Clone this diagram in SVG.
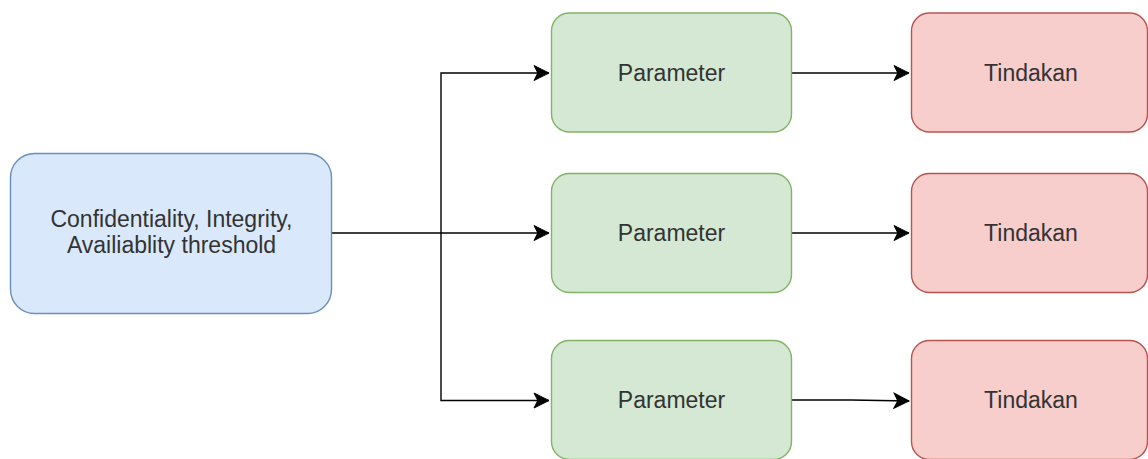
<svg xmlns="http://www.w3.org/2000/svg" width="1148" height="459" viewBox="0 0 1148 459">
  <defs>
    <style>
      .blue { fill: #dae8fc; stroke: #6c8ebf; stroke-width: 1.4; }
      .green { fill: #d5e8d4; stroke: #82b366; stroke-width: 1.4; }
      .red { fill: #f8cecc; stroke: #b85450; stroke-width: 1.4; }
      .lbl { font-family: "Liberation Sans", Arial, Helvetica, sans-serif; font-size: 23px; fill: #333; text-anchor: middle; }
      .edge { fill: none; stroke: #000; stroke-width: 1.4; }
    </style>
    <marker id="arrow" viewBox="0 0 17 17" refX="16" refY="8.5" markerWidth="17" markerHeight="17" markerUnits="userSpaceOnUse" orient="auto">
      <path d="M16,8.5 L1,1 L4.8,8.5 L1,16 Z" fill="#000" stroke="#000" stroke-width="1"/>
    </marker>
  </defs>

  <g id="connectors">
    <path class="edge" d="M332,233 H441 V73 H549" marker-end="url(#arrow)"/>
    <path class="edge" d="M441,233 H549" marker-end="url(#arrow)"/>
    <path class="edge" d="M441,233 V400.5 H549" marker-end="url(#arrow)"/>
    <path class="edge" d="M792,73 H909" marker-end="url(#arrow)"/>
    <path class="edge" d="M792,233 H909" marker-end="url(#arrow)"/>
    <path class="edge" d="M792,400 L851,400 L909,401" marker-end="url(#arrow)"/>
  </g>

  <g id="node-cia">
    <rect class="blue" x="10.5" y="153.5" width="321" height="160" rx="24" ry="24"/>
    <text class="lbl" x="171.5" y="226.5">Confidentiality, Integrity,</text>
    <text class="lbl" x="171.5" y="253">Availiablity threshold</text>
  </g>

  <g id="node-param-1">
    <rect class="green" x="551.5" y="13" width="240" height="119" rx="18" ry="18"/>
    <text class="lbl" x="671.5" y="80.5">Parameter</text>
  </g>
  <g id="node-param-2">
    <rect class="green" x="551.5" y="173.5" width="240" height="119" rx="18" ry="18"/>
    <text class="lbl" x="671.5" y="240.5">Parameter</text>
  </g>
  <g id="node-param-3">
    <rect class="green" x="551.5" y="340.5" width="240" height="119" rx="18" ry="18"/>
    <text class="lbl" x="671.5" y="408">Parameter</text>
  </g>

  <g id="node-tindakan-1">
    <rect class="red" x="911.5" y="13" width="236" height="119" rx="18" ry="18"/>
    <text class="lbl" x="1031" y="80.5">Tindakan</text>
  </g>
  <g id="node-tindakan-2">
    <rect class="red" x="911.5" y="173.5" width="236" height="119" rx="18" ry="18"/>
    <text class="lbl" x="1031" y="240.5">Tindakan</text>
  </g>
  <g id="node-tindakan-3">
    <rect class="red" x="911.5" y="340.5" width="236" height="119" rx="18" ry="18"/>
    <text class="lbl" x="1031" y="408">Tindakan</text>
  </g>
</svg>
